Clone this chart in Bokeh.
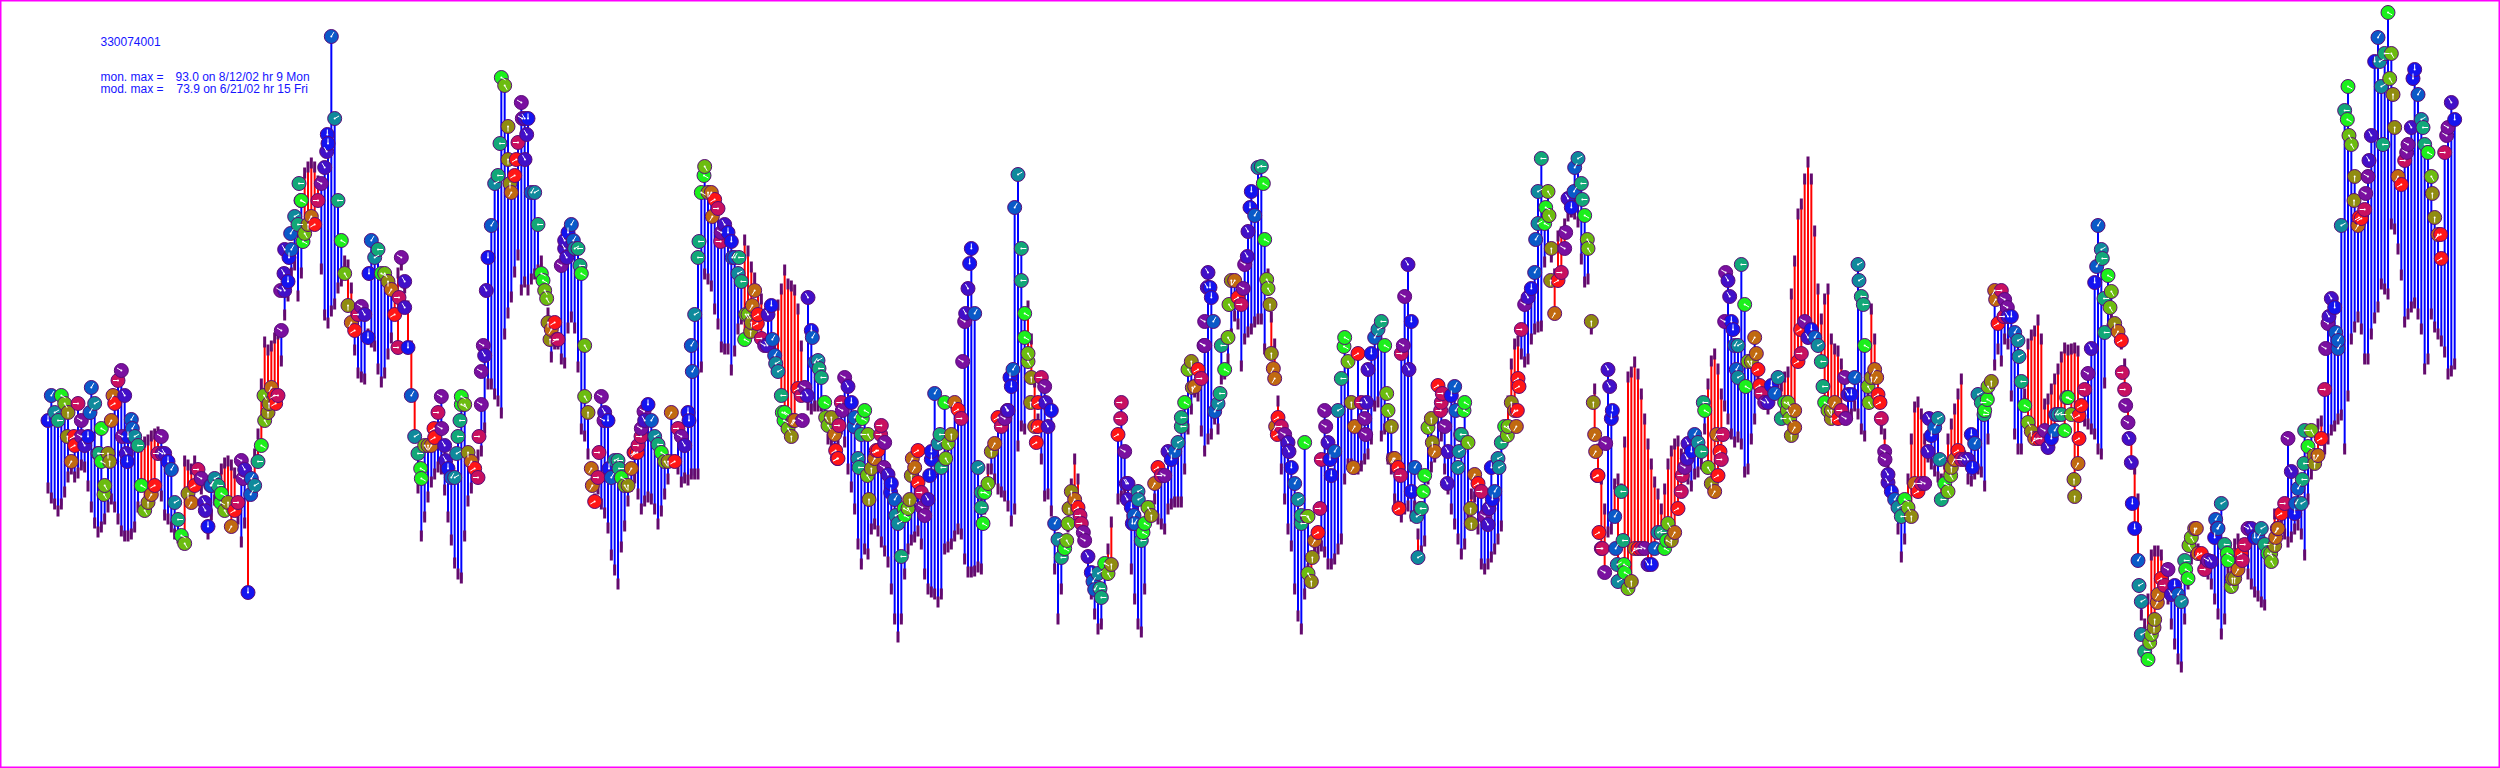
import math
from bokeh.plotting import figure
from bokeh.models import ColumnDataSource, Range1d, Label
from bokeh.embed import file_html
from bokeh.resources import INLINE

site_id = "330074001"
mon_label = "mon. max ="
mon_text = "93.0 on 8/12/02 hr 9 Mon"
mod_label = "mod. max ="
mod_text = "73.9 on 6/21/02 hr 15 Fri"

# monitor readings, tenths of a unit, 12 per day
monitor = [
580,605,588,580,605,597,588,539,555,597,580,555,
564,613,597,547,572,515,547,580,597,620,630,605,
564,581,564,555,515,490,498,506,515,547,564,547,
539,531,498,481,465,457,507,498,515,531,522,498,
474,515,522,515,507,490,498,474,490,498,540,531,
408,522,515,539,555,580,588,613,605,605,670,710,
719,751,784,776,800,767,776,784,776,800,817,833,
857,964,882,800,760,727,695,678,670,686,694,686,
663,760,743,751,727,727,719,711,686,653,743,719,
653,605,564,547,522,555,555,555,563,588,604,555,
532,523,523,564,604,596,548,539,532,523,596,645,
743,775,817,825,923,915,874,808,825,858,898,882,
882,808,808,776,727,710,678,671,678,661,735,760,
768,776,752,752,727,655,588,532,499,523,604,588,
580,523,540,540,523,515,515,532,548,555,572,580,
596,580,564,556,548,539,539,588,539,572,564,555,
588,655,686,743,808,834,808,808,801,792,768,776,
768,759,743,727,719,661,686,678,710,686,662,655,
686,695,645,629,605,588,572,564,580,612,605,613,
703,670,638,640,623,598,575,583,566,542,598,623,
614,598,583,542,566,590,566,532,542,550,575,558,
526,517,501,477,444,485,492,525,533,550,508,485,
501,541,607,557,533,598,557,566,598,591,582,679,
712,752,687,533,508,508,517,549,557,583,574,582,
590,614,793,826,752,687,647,623,574,574,623,614,
574,590,477,461,443,452,477,509,501,493,477,460,
444,428,411,427,403,437,427,436,None,566,598,549,
517,493,477,509,460,477,493,485,517,533,525,525,
549,541,549,558,574,598,631,639,614,631,622,655,
728,703,589,597,655,631,663,720,720,703,696,736,
769,809,785,833,834,761,712,647,622,583,574,566,
558,533,517,501,485,558,484,419,460,468,541,590,
558,525,549,590,622,663,639,598,574,647,598,582,
631,647,663,671,679,655,590,574,542,533,647,704,
736,679,533,443,492,525,573,582,549,615,598,574,
549,605,614,533,566,598,558,477,526,517,509,484,
476,533,509,542,558,574,574,598,590,622,671,696,
703,712,728,809,842,777,809,752,687,720,728,752,
802,793,833,842,817,785,752,679,566,525,452,428,
631,582,484,419,509,428,412,419,452,452,452,452,
436,436,452,468,468,452,477,460,468,492,509,533,
557,549,566,558,549,590,533,517,509,525,541,679,
720,679,655,655,736,696,639,639,663,631,607,598,
598,615,607,623,582,598,598,565,573,639,647,679,
663,671,663,655,639,598,590,582,598,582,590,623,
606,606,623,736,704,655,614,623,631,606,582,549,
526,509,501,493,484,501,493,484,517,509,517,517,
549,565,573,582,501,517,509,533,541,550,541,541,
541,566,557,606,598,590,614,619,710,677,710,701,
684,684,668,660,619,595,578,569,562,562,562,570,
553,562,570,586,586,570,603,586,504,537,595,611,
627,652,718,775,751,668,725,709,677,669,660,611,
578,538,472,440,399,349,341,366,381,406,422,415,
431,406,415,406,399,440,422,463,472,447,447,431,
440,439,463,472,497,456,440,414,422,431,447,456,
472,472,463,463,472,456,447,439,455,472,487,497,
562,529,487,512,497,570,554,570,537,545,562,611,
677,702,693,660,775,890,914,856,824,775,782,791,
824,865,939,963,914,947,988,947,873,824,816,840,
856,873,931,906,881,856,848,824,783,766,742,848,
873,898,881,
]

# model readings, same units and length
model = [
511,501,495,488,495,507,522,530,522,526,534,532,
513,492,476,467,472,480,492,500,492,480,468,463,
463,465,472,492,553,557,559,563,565,567,503,484,
480,472,465,461,455,538,534,530,538,520,510,490,
465,484,499,515,530,536,538,534,526,480,457,476,
503,522,545,565,615,657,649,653,661,665,638,684,
703,726,734,703,726,826,832,836,832,818,730,684,
676,688,695,711,718,738,734,711,649,626,622,620,
665,657,653,630,617,626,645,661,710,726,734,711,
693,653,603,511,463,482,502,517,525,532,530,509,
482,459,436,425,421,463,498,511,532,544,548,571,
615,615,605,598,586,665,686,702,727,744,709,717,
709,720,725,729,738,710,686,642,655,655,640,636,
671,682,671,632,570,563,545,530,500,510,495,486,
471,444,429,415,452,473,498,513,521,505,490,498,
502,500,490,475,488,505,520,539,539,530,517,521,
519,525,525,525,632,725,720,713,690,675,652,650,
650,629,648,670,680,759,748,732,721,709,700,660,
655,640,650,694,710,729,715,713,709,690,653,613,
594,590,593,593,593,580,560,555,550,555,570,557,
530,512,490,455,435,450,445,470,475,468,457,448,
437,410,380,362,380,425,450,459,462,468,455,425,
410,407,405,397,405,450,452,455,463,470,465,440,
427,427,428,432,430,490,530,530,520,510,507,503,
493,478,490,553,573,570,693,660,617,580,540,503,
505,488,430,380,410,448,472,515,540,520,480,473,
427,405,385,370,375,410,450,477,None,500,503,510,
480,430,400,375,367,410,470,493,500,480,475,470,
490,495,497,497,497,530,570,590,607,603,568,548,
560,565,580,570,620,625,640,665,683,675,633,660,
667,670,677,680,680,650,725,682,655,598,530,500,
470,453,410,383,370,405,430,440,450,450,453,447,
435,435,440,450,460,520,535,535,530,530,533,540,
545,560,593,597,563,570,540,530,500,493,482,490,
493,483,493,465,448,458,520,532,542,555,563,530,
510,490,475,460,445,455,480,505,502,470,435,430,
435,442,450,460,473,560,598,635,655,658,645,637,
640,660,670,672,673,737,750,742,725,763,767,775,
783,787,785,777,740,717,720,670,610,550,520,490,
467,470,515,520,510,557,622,627,637,625,605,580,
555,535,517,505,490,510,535,548,555,558,545,530,
520,513,525,527,535,570,615,638,645,630,605,593,
580,565,557,562,555,527,530,560,580,620,605,595,
590,598,605,610,613,622,627,705,738,785,795,820,
837,820,768,710,680,700,710,660,650,648,635,605,
583,585,593,585,570,563,600,690,660,630,570,565,
530,510,500,470,442,460,520,560,592,597,585,560,
542,535,528,522,520,535,560,575,590,605,620,543,
520,518,525,530,527,513,560,600,634,650,638,660,
655,603,565,550,550,605,655,664,668,679,660,595,
600,610,620,630,642,651,649,650,651,648,591,578,
575,570,565,550,545,616,670,681,675,670,655,635,
595,560,530,500,384,375,400,444,448,448,444,430,
400,375,355,340,332,380,415,440,450,450,440,435,
425,415,400,385,365,380,430,445,455,460,455,444,
425,415,407,403,397,394,440,460,485,485,478,465,
457,462,470,474,465,444,500,525,535,575,578,550,
560,569,573,580,584,550,603,660,672,682,670,640,
640,665,681,692,715,710,705,775,770,750,724,677,
685,692,696,685,670,630,640,685,672,665,658,647,
625,628,635,
]

# further monitor circles seen between the 12-per-day readings
extra_hours = [
5.8,7.8,10,12.6,15.3,16,16.8,18.5,19.5,22.3,23.5,23.8,25.3,34.3,47.2,48.8,51.8,58.5,60.8,
64.8,66.3,68.3,69.8,70.8,71,72.3,72.8,75.3,75.9,76.5,83.6,83.8,96.3,105.3,107,
111.8,115.8,118.1,119.3,122.6,123.6,124,129.3,130,130.6,131.5,135.6,138,138.6,140.5,142.3,143.1,143.6,
148.5,149.6,150.6,152.6,155,155.6,157.6,159.6,161,163.3,165.3,166.8,168.3,171.3,175.8,176.8,177.9,178.8,
192.3,193.3,195.3,196.8,199.3,201.8,205.3,207.3,209.3,210.8,211.3,212.8,215.8,217.3,218.3,220.3,220.8,223.6,226.3,227.8,
229.3,231.3,233.3,236.3,236.8,237.3,238.3,241.8,243.3,244.3,245.8,246.3,248.5,249.8,250.8,252.8,254.3,256.8,258.5,259.3,261,262.3,
264.5,265,267.6,269.3,274.4,275.3,276.5,280,280.5,287.8,288.6,289.5,292,293,294,294.8,296.5,297,299.3,
305.6,306.3,309.6,310.6,313.5,315.6,321.8,323.5,323.8,325.3,325.8,327.1,328.5,340,343.3,346.8,347,347.8,
348.6,349.6,351.6,354.3,358.6,359.8,360.6,364.6,365.6,366.6,367.6,368.3,368.8,372.3,376,377.8,378,379.3,381.6,383.3,384.6,
388.8,391.6,395.3,395.6,401.6,403.6,405.3,405.8,406.6,408.3,409,410.6,411.8,412.6,415.3,417.8,418.3,419.8,422.3,423.3,423.8,424.8,426.8,
432.3,433.3,435.3,437.8,440.5,440.8,441.3,446.3,447,449.3,450.3,450.8,455.3,457.8,460.3,461.8,
463.6,464.3,464.8,465.3,466.3,467.3,468.5,469.3,470.3,470.8,472.5,472.8,485.6,490.3,491.8,496.6,500.6,501.6,502.5,503.3,504.5,505.5,506.5,507,509.3,512.5,513.5,
521.8,522.5,524,525.8,532.5,535,539.3,543.3,544.6,546.3,548.6,549.6,551.1,552,564.3,567.5,570.8,577.3,580.8,581.8,
584.3,586.8,587.8,591.3,602.3,605.6,607.8,609.3,609.3,614.6,616.3,616.8,618.6,622.3,623.3,624.3,625.3,627.3,628,630.5,631.8,632.8,
641.3,642.3,644.5,650.3,650.8,653.8,655.3,658.3,666.8,668.3,668.8,674.3,676.3,676.8,679.8,683.3,684.3,686.3,687,
689.8,690.3,691.8,693.3,695.3,696.3,699.5,700.5,702.5,703.5,707.6,709.5,712.5,715.3,717.8,719.6,
]
extra_monitor = [
564,564,564,588,547,539,506,539,605,564,547,539,572,547,490,515,498,522,506,
605,597,597,710,727,751,743,767,817,800,759,849,866,727,703,693,
532,572,572,540,547,580,596,564,629,655,710,857,841,817,841,882,841,866,
720,702,661,661,752,743,760,735,604,515,548,580,532,532,548,548,564,589,
580,629,759,825,784,759,743,743,686,669,695,677,655,661,637,588,580,580,580,605,
663,632,583,550,542,575,590,574,533,582,525,501,550,566,533,508,485,492,501,542,518,493,
525,549,566,542,639,687,737,493,477,590,623,631,720,663,639,598,558,598,598,
460,492,485,468,419,412,582,517,501,477,485,501,468,583,613,655,679,713,
713,679,607,696,712,744,793,817,721,696,632,574,566,549,477,484,427,443,492,574,541,
654,533,566,598,607,542,492,525,655,631,509,484,492,509,558,590,607,517,590,549,566,590,492,
492,501,533,565,574,590,614,761,777,793,785,720,768,809,801,761,
598,549,525,468,452,557,614,590,452,436,460,436,460,525,542,598,566,549,566,728,704,671,631,623,614,647,615,
590,582,590,671,614,590,582,720,696,598,623,598,541,518,582,541,525,533,586,601,
701,684,693,644,586,603,521,562,585,734,742,702,693,628,595,562,497,415,366,358,373,398,
431,455,472,481,472,447,422,440,447,463,472,497,521,537,545,652,684,668,652,
881,865,800,783,807,840,939,856,922,906,848,922,873,807,766,865,
]

hour_colors = ["#1414f0", "#0a5ac8", "#0f8a9c", "#12a878", "#1cf01c", "#6cbc10",
               "#908c10", "#c06a10", "#ff1616", "#c81060", "#7a10a0", "#4210c8"]
day_length = 12.03  # readings between two greens of the colour cycle

hours = list(range(len(monitor)))
pairs = [(h, m / 10, n / 10) for h, m, n in zip(hours, monitor, model) if m is not None and n is not None]
xs = [a[0] for a in pairs]
mon = [a[1] for a in pairs]
mod = [a[2] for a in pairs]

p = figure(width=2500, height=768, output_backend="svg", toolbar_location=None,
           x_axis_location=None, y_axis_location=None,
           x_range=Range1d(-14.25, 735.75), y_range=Range1d(23.2, 100.0),
           min_border=0, background_fill_color="white", border_fill_color="white")
p.grid.visible = False
p.outline_line_color = "#ff00ff"
p.outline_line_width = 2

blue = [k for k in range(len(xs)) if mon[k] >= mod[k]]
red = [k for k in range(len(xs)) if mon[k] < mod[k]]
for idx, col in ((blue, "#0000ff"), (red, "#ff0000")):
    src = ColumnDataSource(dict(x=[xs[k] for k in idx], y0=[mod[k] for k in idx], y1=[mon[k] for k in idx]))
    p.segment("x", "y0", "x", "y1", source=src, line_color=col, line_width=2)

marks = ColumnDataSource(dict(x=xs, lo=[v - 0.4 for v in mod], hi=[v + 0.7 for v in mod]))
p.segment("x", "lo", "x", "hi", source=marks, line_color="#640a6e", line_width=3)

all_circles = sorted(list(zip(xs, mon)) + [(h, v / 10) for h, v in zip(extra_hours, extra_monitor)])
cx = [a[0] for a in all_circles]
cy = [a[1] for a in all_circles]
slot = [int(round((h - 4) * 12 / day_length + 4)) % 12 for h in cx]
circ = ColumnDataSource(dict(
    x=cx, y=cy,
    fill=[hour_colors[s] for s in slot],
    ang=[math.pi / 2 - s * math.pi / 6 for s in slot],
))
p.scatter("x", "y", source=circ, size=14, fill_color="fill", line_color="#5a0a78", line_width=1)
p.ray("x", "y", source=circ, length=5, length_units="screen", angle="ang", line_color="white", line_width=1)
p.scatter("x", "y", source=circ, size=2, fill_color="white", line_color="white", line_width=0)

for txt, x, yt in ((site_id, 100, 41), (mon_label, 100, 76), (mon_text, 175, 76), (mod_label, 100, 88), (mod_text, 176, 88)):
    p.add_layout(Label(x=x, y=768 - yt, x_units="screen", y_units="screen", text=txt, text_color="#1414ff",
                       text_font="Liberation Sans", text_font_size="12px", text_baseline="middle"))

open("out.html", "w").write(file_html(p, INLINE))
